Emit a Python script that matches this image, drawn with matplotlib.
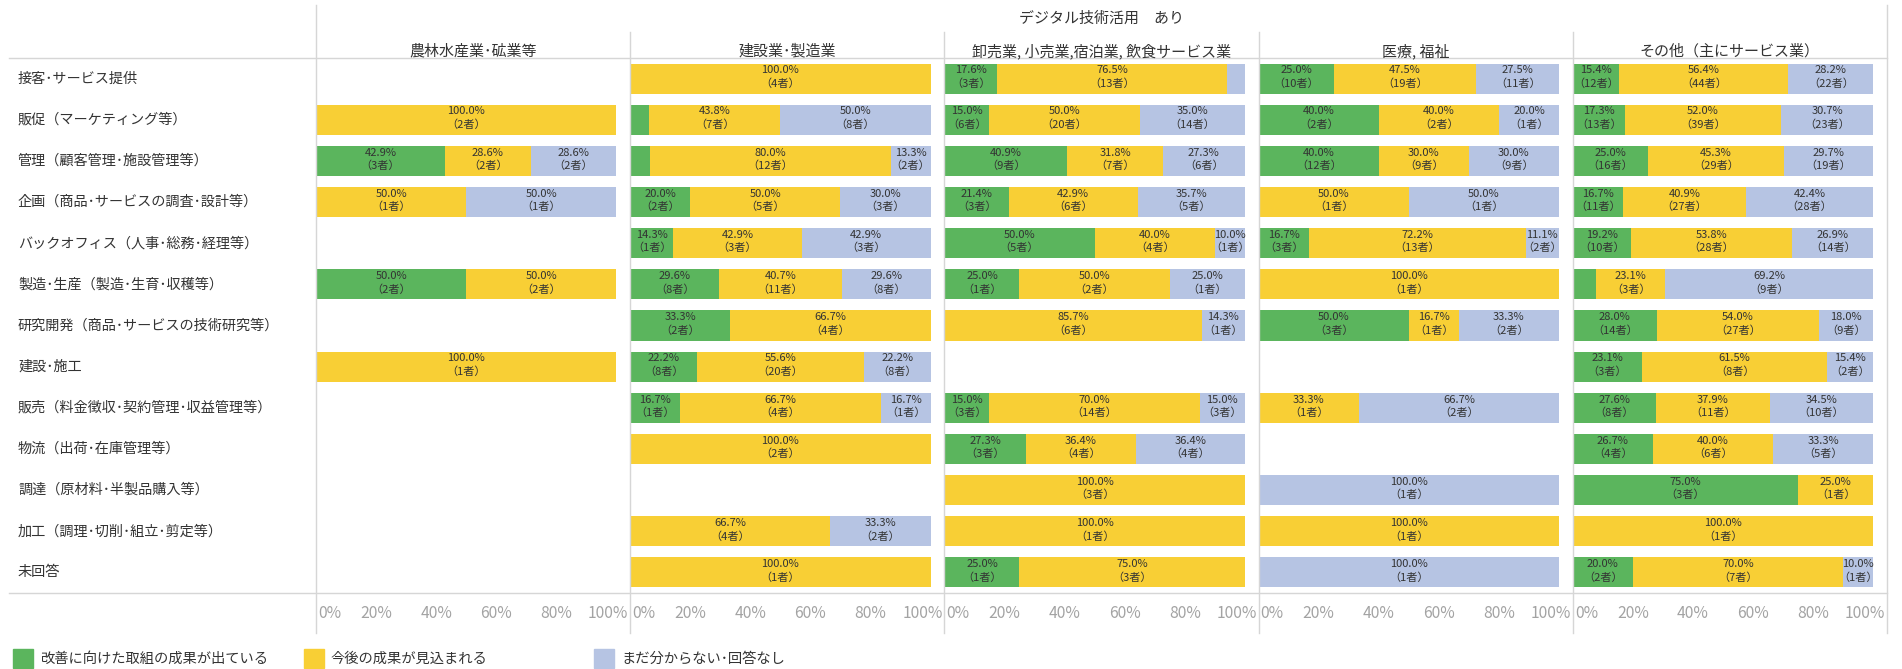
import matplotlib
matplotlib.use("Agg")
import matplotlib.pyplot as plt
from matplotlib.lines import Line2D
from matplotlib.patches import Rectangle
from matplotlib.transforms import blended_transform_factory, ScaledTranslation
import numpy as np

plt.rcParams['font.family'] = ['Noto Sans CJK JP', 'DejaVu Sans']

header = "デジタル技術活用　あり"

industries = [
    "農林水産業･砿業等",
    "建設業･製造業",
    "卸売業, 小売業,宿泊業, 飲食サービス業",
    "医療, 福祉",
    "その他（主にサービス業）",
]

tasks = [
    "接客･サービス提供",
    "販促（マーケティング等）",
    "管理（顧客管理･施設管理等）",
    "企画（商品･サービスの調査･設計等）",
    "バックオフィス（人事･総務･経理等）",
    "製造･生産（製造･生育･収穫等）",
    "研究開発（商品･サービスの技術研究等）",
    "建設･施工",
    "販売（料金徴収･契約管理･収益管理等）",
    "物流（出荷･在庫管理等）",
    "調達（原材料･半製品購入等）",
    "加工（調理･切削･組立･剪定等）",
    "未回答",
]

statuses = ["改善に向けた取組の成果が出ている", "今後の成果が見込まれる", "まだ分からない･回答なし"]
colors = ["#5bb55d", "#f8cf35", "#b6c4e3"]

# respondent counts per task (rows follow `tasks`)
agri_results   = [0, 0, 3, 0, 0, 2, 0, 0, 0, 0, 0, 0, 0]
agri_expected  = [0, 2, 2, 1, 0, 2, 0, 1, 0, 0, 0, 0, 0]
agri_unknown   = [0, 0, 2, 1, 0, 0, 0, 0, 0, 0, 0, 0, 0]

constr_results  = [0, 1, 1, 2, 1, 8, 2, 8, 1, 0, 0, 0, 0]
constr_expected = [4, 7, 12, 5, 3, 11, 4, 20, 4, 2, 0, 4, 1]
constr_unknown  = [0, 8, 2, 3, 3, 8, 0, 8, 1, 0, 0, 2, 0]

retail_results  = [3, 6, 9, 3, 5, 1, 0, 0, 3, 3, 0, 0, 1]
retail_expected = [13, 20, 7, 6, 4, 2, 6, 0, 14, 4, 3, 1, 3]
retail_unknown  = [1, 14, 6, 5, 1, 1, 1, 0, 3, 4, 0, 0, 0]

med_results  = [10, 2, 12, 0, 3, 0, 3, 0, 0, 0, 0, 0, 0]
med_expected = [19, 2, 9, 1, 13, 1, 1, 0, 1, 0, 0, 1, 0]
med_unknown  = [11, 1, 9, 1, 2, 0, 2, 0, 2, 0, 1, 0, 1]

other_results  = [12, 13, 16, 11, 10, 1, 14, 3, 8, 4, 3, 0, 2]
other_expected = [44, 39, 29, 27, 28, 3, 27, 8, 11, 6, 1, 1, 7]
other_unknown  = [22, 23, 19, 28, 14, 9, 9, 2, 10, 5, 0, 0, 1]

panels = [
    (agri_results, agri_expected, agri_unknown),
    (constr_results, constr_expected, constr_unknown),
    (retail_results, retail_expected, retail_unknown),
    (med_results, med_expected, med_unknown),
    (other_results, other_expected, other_unknown),
]

W, H = 1902, 669
fig = plt.figure(figsize=(W / 100, H / 100), dpi=100)
fig.patch.set_facecolor("white")


def fx(px):
    return px / W


def fy(py):
    return 1 - py / H


grid_color = "#d6d6d6"
text_color = "#333333"

left_px, right_px = 316, 1887
top_px, bottom_px = 58, 593
pw = (right_px - left_px) / len(industries)
n = len(tasks)
rows = np.arange(n)

axes = []
for i, (name, series) in enumerate(zip(industries, panels)):
    ax = fig.add_axes([fx(left_px + i * pw), fy(bottom_px), pw / W, (bottom_px - top_px) / H])
    axes.append(ax)
    counts = np.array(series, dtype=float)
    totals = counts.sum(axis=0)
    share = np.divide(counts * 100, totals, out=np.zeros_like(counts), where=totals > 0)

    ax.set_xlim(0, 104.6)
    ax.set_ylim(n - 0.5, -0.5)

    left = np.zeros(n)
    for k in range(3):
        ax.barh(rows, share[k], left=left, height=0.73, color=colors[k], zorder=2, linewidth=0)
        for r in rows:
            p = share[k][r]
            if p >= 9:
                cx = left[r] + p / 2
                ax.text(cx, r - 0.2, f"{p:.1f}%", ha="center", va="center",
                        fontsize=8, color="#333333", zorder=3)
                ax.text(cx, r + 0.12, f"（{int(counts[k][r])}者）", ha="center", va="center",
                        fontsize=8, color="#333333", zorder=3)
        left = left + share[k]

    for s in ax.spines.values():
        s.set_visible(False)
    ax.set_yticks([])
    ticks = [0, 20, 40, 60, 80, 100]
    ax.set_xticks(ticks)
    ax.set_xticklabels([f"{t}%" for t in ticks], fontsize=11.3, color="#a3a3a3")
    ax.tick_params(axis="x", which="major", length=0, pad=9)
    ax.set_xticks([20, 40, 60, 80], minor=True)
    ax.tick_params(axis="x", which="minor", length=0)
    ax.grid(which="minor", axis="x", color="#eeeeee", linewidth=0.8, zorder=0)
    labels = ax.get_xticklabels()
    labels[0].set_ha("left")
    labels[0].set_transform(labels[0].get_transform() + ScaledTranslation(2 / 100, 0, fig.dpi_scale_trans))
    labels[-1].set_ha("right")
    labels[-1].set_transform(labels[-1].get_transform() + ScaledTranslation(12 / 100, 0, fig.dpi_scale_trans))

    fig.text(fx(left_px + (i + 0.5) * pw), fy(51), name, ha="center", va="center",
             fontsize=10.8, color=text_color)

# row labels along the left
row_trans = blended_transform_factory(fig.transFigure, axes[0].transData)
for r, label in zip(rows, tasks):
    fig.text(fx(18), r, label, transform=row_trans, ha="left", va="center",
             fontsize=10.2, color=text_color)

fig.text(fx((left_px + right_px) / 2), fy(19), header, ha="center", va="center",
         fontsize=10.8, color=text_color)

# table rules
fig.add_artist(Line2D([fx(9), fx(right_px)], [fy(top_px), fy(top_px)], color=grid_color, lw=1))
fig.add_artist(Line2D([fx(9), fx(right_px)], [fy(bottom_px), fy(bottom_px)], color=grid_color, lw=1))
for i in range(len(industries) + 1):
    x = left_px + i * pw
    y0 = 5 if i in (0, len(industries)) else 32
    fig.add_artist(Line2D([fx(x), fx(x)], [fy(y0), fy(633)], color=grid_color, lw=1))

# legend
legend_x = [13, 304, 594]
for lx, c, s in zip(legend_x, colors, statuses):
    fig.add_artist(Rectangle((fx(lx), fy(668)), 20 / W, 19 / H, color=c, transform=fig.transFigure))
    fig.text(fx(lx + 27), fy(659), s, ha="left", va="center", fontsize=10.3, color=text_color)

fig.savefig("out.png", dpi=100, facecolor="white")
